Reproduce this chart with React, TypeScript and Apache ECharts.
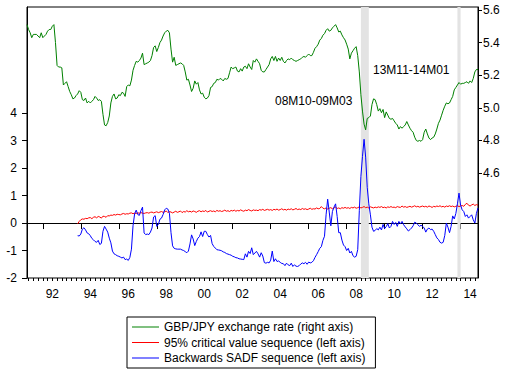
import React, { useEffect, useRef } from "react";
import * as echarts from "echarts";

// Monthly data, first observation 1991M03
const START_YEAR = 1991;
const START_MONTH = 3;

// GBP/JPY exchange rate (log), right axis
const gbpjpy = [
  5.51, 5.48, 5.46, 5.43, 5.45, 5.45, 5.45, 5.44, 5.43, 5.46,
  5.43, 5.44, 5.45, 5.47, 5.48, 5.48, 5.5, 5.51, 5.4, 5.26,
  5.25, 5.25, 5.245, 5.14, 5.15, 5.16, 5.13, 5.1, 5.08, 5.055,
  5.06, 5.075, 5.085, 5.105, 5.095, 5.05, 5.045, 5.06, 5.03, 5.04,
  5.03, 5.04, 5.05, 5.07, 5.06, 5.045, 5.05, 5.04, 4.96, 4.895,
  4.89, 4.91, 4.95, 5.03, 5.07, 5.085, 5.055, 5.06, 5.08, 5.075,
  5.095, 5.09, 5.07, 5.13, 5.14, 5.135, 5.17, 5.23, 5.26, 5.285,
  5.28, 5.29, 5.305, 5.335, 5.265, 5.27, 5.275, 5.28, 5.29, 5.32,
  5.37, 5.38, 5.345, 5.37, 5.4, 5.415, 5.44, 5.46, 5.47, 5.475,
  5.46, 5.36, 5.28, 5.31, 5.26, 5.265, 5.27, 5.275, 5.27, 5.26,
  5.22, 5.17, 5.175, 5.14, 5.1, 5.12, 5.165, 5.145, 5.155, 5.11,
  5.085, 5.09, 5.065, 5.055, 5.06, 5.075, 5.125, 5.13, 5.15, 5.155,
  5.175, 5.17, 5.18, 5.175, 5.165, 5.18, 5.175, 5.18, 5.215, 5.25,
  5.24, 5.245, 5.25, 5.225, 5.22, 5.24, 5.225, 5.25, 5.255, 5.24,
  5.27, 5.25, 5.235, 5.29, 5.28, 5.3, 5.285, 5.27, 5.23, 5.22,
  5.22, 5.235, 5.25, 5.265, 5.3, 5.315, 5.29, 5.315, 5.285, 5.305,
  5.29, 5.31, 5.285, 5.275, 5.29, 5.3, 5.295, 5.305, 5.295, 5.29,
  5.285, 5.29, 5.295, 5.3, 5.31, 5.315, 5.31, 5.32, 5.33, 5.32,
  5.32, 5.34, 5.365, 5.375, 5.39, 5.415, 5.425, 5.445, 5.455, 5.475,
  5.485, 5.47, 5.475, 5.49, 5.5, 5.51, 5.49, 5.465, 5.47, 5.447,
  5.43, 5.416, 5.39, 5.36, 5.3, 5.335, 5.35, 5.365, 5.375, 5.32,
  5.22, 5.08, 4.98, 4.9, 4.865, 4.935, 4.94, 4.95, 5.02, 5.055,
  5.05, 5.02, 4.98, 4.995, 4.97, 4.99, 4.94, 4.975, 4.955, 4.935,
  4.93, 4.935, 4.92, 4.905, 4.895, 4.87, 4.885, 4.875, 4.885, 4.895,
  4.916, 4.895, 4.875, 4.86, 4.85, 4.82, 4.8, 4.795, 4.8, 4.795,
  4.805, 4.85, 4.87, 4.84, 4.815, 4.805, 4.815, 4.82, 4.84, 4.87,
  4.905, 4.925, 4.955, 4.985, 5.01, 5.03, 5.025, 5.03, 5.05, 5.07,
  5.11, 5.125, 5.14, 5.155, 5.145, 5.15, 5.15, 5.155, 5.16, 5.15,
  5.165, 5.155, 5.18, 5.22, 5.235, 5.235,
];

// Left-axis sequences start 1993M11
const SADF_START = "1993M11";

const critical95 = [
  -0.03, 0.06, 0.12, 0.15, 0.14, 0.17, 0.16, 0.19, 0.2, 0.16,
  0.21, 0.23, 0.19, 0.24, 0.22, 0.18, 0.25, 0.24, 0.21, 0.27,
  0.26, 0.29, 0.28, 0.31, 0.29, 0.32, 0.31, 0.3, 0.33, 0.35,
  0.32, 0.34, 0.33, 0.36, 0.37, 0.34, 0.36, 0.35, 0.37, 0.36,
  0.38, 0.36, 0.35, 0.37, 0.38, 0.36, 0.39, 0.4, 0.37, 0.39,
  0.41, 0.38, 0.4, 0.42, 0.39, 0.41, 0.44, 0.38, 0.42, 0.4,
  0.37, 0.4, 0.43, 0.39, 0.41, 0.44, 0.38, 0.42, 0.4, 0.45,
  0.41, 0.43, 0.4, 0.44, 0.42, 0.39, 0.43, 0.45, 0.41, 0.44,
  0.42, 0.46, 0.4, 0.43, 0.45, 0.42, 0.44, 0.41, 0.46, 0.43,
  0.45, 0.42, 0.44, 0.47, 0.43, 0.45, 0.42, 0.46, 0.44, 0.47,
  0.43, 0.46, 0.44, 0.48, 0.45, 0.43, 0.47, 0.45, 0.49, 0.46,
  0.44, 0.48, 0.46, 0.47, 0.45, 0.49, 0.47, 0.5, 0.46, 0.48,
  0.5, 0.47, 0.49, 0.46, 0.5, 0.48, 0.51, 0.47, 0.49, 0.52,
  0.48, 0.5, 0.47, 0.51, 0.49, 0.52, 0.48, 0.5, 0.53, 0.49,
  0.51, 0.49, 0.53, 0.5, 0.52, 0.49, 0.51, 0.54, 0.5, 0.52,
  0.51, 0.55, 0.52, 0.53, 0.6, 0.54, 0.52, 0.55, 0.51, 0.54,
  0.56, 0.52, 0.55, 0.58, 0.53, 0.55, 0.52, 0.56, 0.54, 0.57,
  0.54, 0.56, 0.53, 0.57, 0.55, 0.58, 0.54, 0.56, 0.59, 0.55,
  0.57, 0.6, 0.56, 0.58, 0.55, 0.59, 0.57, 0.55, 0.58, 0.56,
  0.59, 0.57, 0.6, 0.56, 0.58, 0.55, 0.59, 0.57, 0.6, 0.57,
  0.58, 0.56, 0.6, 0.58, 0.57, 0.62, 0.58, 0.6, 0.57, 0.59,
  0.61, 0.58, 0.6, 0.63, 0.59, 0.61, 0.58, 0.6, 0.62, 0.59,
  0.61, 0.58, 0.62, 0.6, 0.57, 0.61, 0.59, 0.62, 0.6, 0.63,
  0.59, 0.61, 0.58, 0.62, 0.6, 0.63, 0.6, 0.62, 0.59, 0.61,
  0.63, 0.6, 0.62, 0.64, 0.61, 0.68, 0.72, 0.65, 0.62, 0.66,
  0.69, 0.64, 0.67, 0.65,
];

const backwardsSadf = [
  -0.46, -0.47, -0.4, -0.22, -0.17, -0.25, -0.36, -0.39, -0.46, -0.56,
  -0.61, -0.67, -0.7, -0.63, -0.78, -0.74, -0.3, -0.12, -0.22, -0.33,
  -0.55, -0.72, -1.02, -1.12, -1.15, -1.19, -1.21, -1.24, -1.27, -1.24,
  -1.33, -1.31, -1.36, -1.25, -0.95, -0.1, 0.33, 0.47, 0.31, 0.28,
  0.45, 0.58, -0.36, -0.42, -0.4, -0.42, -0.33, -0.18, 0.22, 0.27,
  -0.12, -0.05, 0.14, 0.18, 0.31, 0.48, 0.54, 0.51, 0.36, -0.35,
  -0.83, -0.92, -0.94, -0.95, -0.95, -0.95, -0.98, -1.0, -1.04, -1.08,
  -1.02, -0.76, -0.43, -0.58, -0.82, -0.67, -0.55, -0.49, -0.32, -0.49,
  -0.3, -0.3, -0.42, -0.51, -0.45, -0.75, -0.85, -0.91, -0.97, -0.98,
  -0.99, -1.01, -1.05, -1.07, -1.11, -1.13, -1.15, -1.17, -1.21, -1.23,
  -1.26, -1.27, -1.3, -1.31, -1.32, -1.33, -1.12, -1.24, -1.03, -1.11,
  -0.9, -1.15, -1.09, -1.03, -1.12, -1.24, -1.08, -1.2, -1.44, -1.46,
  -1.43, -1.45, -1.35, -1.02, -1.4, -1.3, -1.4, -1.38, -1.43, -1.47,
  -1.48, -1.55, -1.46, -1.52, -1.55, -1.46, -1.58, -1.52, -1.57, -1.58,
  -1.55, -1.49, -1.45, -1.48, -1.43, -1.5, -1.42, -1.45, -1.43, -1.37,
  -1.25, -1.15, -1.04, -0.92, -0.86, -0.63, -0.48, 0.3, 0.87, 0.4,
  -0.1, 0.42, 0.58, 0.7, 0.24, -0.35, -0.35, -0.62, -0.8, -0.86,
  -1.0, -0.92, -1.09, -1.03, -1.19, -1.24, -1.21, -0.97, 0.45, 1.7,
  2.42, 3.05, 2.4, 1.3, 0.7, 0.3, -0.15, -0.3, -0.27, -0.2,
  -0.25, -0.15, -0.25, -0.05, -0.2, -0.13, -0.02, -0.18, -0.12, 0.06,
  -0.05, 0.02, -0.12, 0.06, -0.03, 0.06, -0.06, -0.14, -0.21, -0.29,
  -0.24, -0.18, -0.1, 0.03, 0.0, -0.06, -0.12, -0.08, -0.12, -0.18,
  -0.33, -0.22, -0.18, -0.24, -0.22, -0.3, -0.42, -0.54, -0.6, -0.7,
  -0.73, -0.7, -0.45, 0.0, -0.15, -0.35, -0.12, 0.26, 0.15, 0.35,
  0.7, 1.09, 0.65, 0.48, 0.42, 0.24, 0.3, 0.18, 0.24, 0.3,
  0.12, 0.0, 0.35, 0.55,
];

// Shaded periods
const shadedPeriods = [
  ["2008M10", "2009M03"],
  ["2013M11", "2014M01"],
];
const shadeLabels = ["08M10-09M03", "13M11-14M01"];

const leftTicks = [-2, -1, 0, 1, 2, 3, 4];
const rightTicks = [4.6, 4.8, 5.0, 5.2, 5.4, 5.6];

const seriesNames = [
  "GBP/JPY exchange rate (right axis)",
  "95% critical value sequence (left axis)",
  "Backwards SADF sequence (left axis)",
];

const FONT = '"Liberation Sans", Arial, sans-serif';

const months: string[] = [];
const monthNum: number[] = [];
const yearNum: number[] = [];
for (let k = 0; k < gbpjpy.length; k++) {
  const t = START_MONTH - 1 + k;
  const y = START_YEAR + Math.floor(t / 12);
  const m = (t % 12) + 1;
  months.push(`${y}M${String(m).padStart(2, "0")}`);
  monthNum.push(m);
  yearNum.push(y);
}

export default function App() {
  const ref = useRef<HTMLDivElement>(null);
  useEffect(() => {
    if (!ref.current) return;
    const chart = echarts.init(ref.current, undefined, { renderer: "svg" });
    const offset = months.indexOf(SADF_START);
    const pad = (arr: number[]) =>
      months.map((_, i) => (i >= offset && i - offset < arr.length ? arr[i - offset] : null));

    const option: any = {
      animation: false,
      backgroundColor: "#fff",
      textStyle: { fontFamily: FONT },
      grid: {
        left: 27,
        right: 27,
        top: 7,
        bottom: 93,
        show: true,
        borderColor: "#000",
        borderWidth: 1,
        backgroundColor: "transparent",
      },
      legend: {
        orient: "vertical",
        left: 127,
        top: 317,
        data: seriesNames,
        icon: "rect",
        itemWidth: 27,
        itemHeight: 1,
        itemGap: 1.5,
        padding: [3, 10, 3, 5],
        borderColor: "#000",
        borderWidth: 1,
        borderRadius: 0,
        textStyle: { fontSize: 12, fontFamily: FONT, color: "#000", lineHeight: 14 },
      },
      xAxis: [
        {
          type: "category",
          data: months,
          boundaryGap: false,
          axisLine: { show: true, lineStyle: { color: "#000", width: 1 } },
          axisTick: {
            show: true,
            length: 6,
            interval: (i: number) => monthNum[i] === 1 && yearNum[i] % 2 === 0,
            lineStyle: { color: "#000" },
          },
          axisLabel: {
            show: true,
            interval: (i: number) => monthNum[i] === 7 && yearNum[i] % 2 === 0,
            formatter: (v: string) => v.slice(2, 4),
            color: "#000",
            fontSize: 12,
            fontFamily: FONT,
            margin: 10,
          },
          splitLine: { show: false },
        },
        {
          type: "category",
          data: months,
          boundaryGap: false,
          position: "bottom",
          offset: 0,
          axisLine: { show: false },
          axisTick: {
            show: true,
            length: 3,
            interval: (i: number) => (monthNum[i] - 1) % 3 === 0,
            lineStyle: { color: "#000" },
          },
          axisLabel: { show: false },
          splitLine: { show: false },
        },
      ],
      yAxis: [
        {
          type: "value",
          position: "left",
          min: -2,
          max: 7.865,
          interval: 1,
          axisLine: { show: true, lineStyle: { color: "#000" } },
          axisTick: { show: true, length: 5, customValues: leftTicks, lineStyle: { color: "#000" } },
          axisLabel: {
            customValues: leftTicks,
            color: "#000",
            fontSize: 12,
            fontFamily: FONT,
            margin: 10,
            formatter: (v: number) => (v <= 4 ? String(v) : ""),
          },
          splitLine: { show: false },
        },
        {
          type: "value",
          position: "right",
          min: 3.957,
          max: 5.618,
          axisLine: { show: true, lineStyle: { color: "#000" } },
          axisTick: { show: true, length: 4, customValues: rightTicks, lineStyle: { color: "#000" } },
          axisLabel: {
            customValues: rightTicks,
            color: "#000",
            fontSize: 12,
            fontFamily: FONT,
            margin: 5,
            formatter: (v: number) => (v >= 4.59 ? v.toFixed(1) : ""),
          },
          splitLine: { show: false },
        },
      ],
      series: [
        {
          name: "shade",
          type: "line",
          xAxisIndex: 0,
          yAxisIndex: 0,
          data: months.map(() => null),
          z: 1,
          silent: true,
          showSymbol: false,
          markArea: {
            silent: true,
            itemStyle: { color: "#e3e3e3" },
            data: shadedPeriods.map(([a, b]) => [{ xAxis: a }, { xAxis: b }]),
          },
        },
        {
          name: seriesNames[0],
          type: "line",
          xAxisIndex: 0,
          yAxisIndex: 1,
          data: gbpjpy,
          showSymbol: false,
          symbol: "none",
          z: 3,
          lineStyle: { color: "#008000", width: 1 },
          itemStyle: { color: "#008000" },
        },
        {
          name: seriesNames[1],
          type: "line",
          xAxisIndex: 0,
          yAxisIndex: 0,
          data: pad(critical95),
          showSymbol: false,
          symbol: "none",
          z: 3,
          lineStyle: { color: "#ff0000", width: 1 },
          itemStyle: { color: "#ff0000" },
        },
        {
          name: seriesNames[2],
          type: "line",
          xAxisIndex: 0,
          yAxisIndex: 0,
          data: pad(backwardsSadf),
          showSymbol: false,
          symbol: "none",
          z: 3,
          lineStyle: { color: "#0000ff", width: 1 },
          itemStyle: { color: "#0000ff" },
        },
      ],
      graphic: [
        {
          type: "text",
          left: 275,
          top: 95,
          style: { text: shadeLabels[0], font: `12px ${FONT}`, fill: "#000" },
        },
        {
          type: "text",
          left: 373,
          top: 64,
          style: { text: shadeLabels[1], font: `12px ${FONT}`, fill: "#000" },
        },
      ],
    };
    chart.setOption(option);
    return () => chart.dispose();
  }, []);
  return (
    <div
      ref={ref}
      style={{ position: "absolute", left: 0, top: 0, width: 505, height: 371 }}
    />
  );
}
